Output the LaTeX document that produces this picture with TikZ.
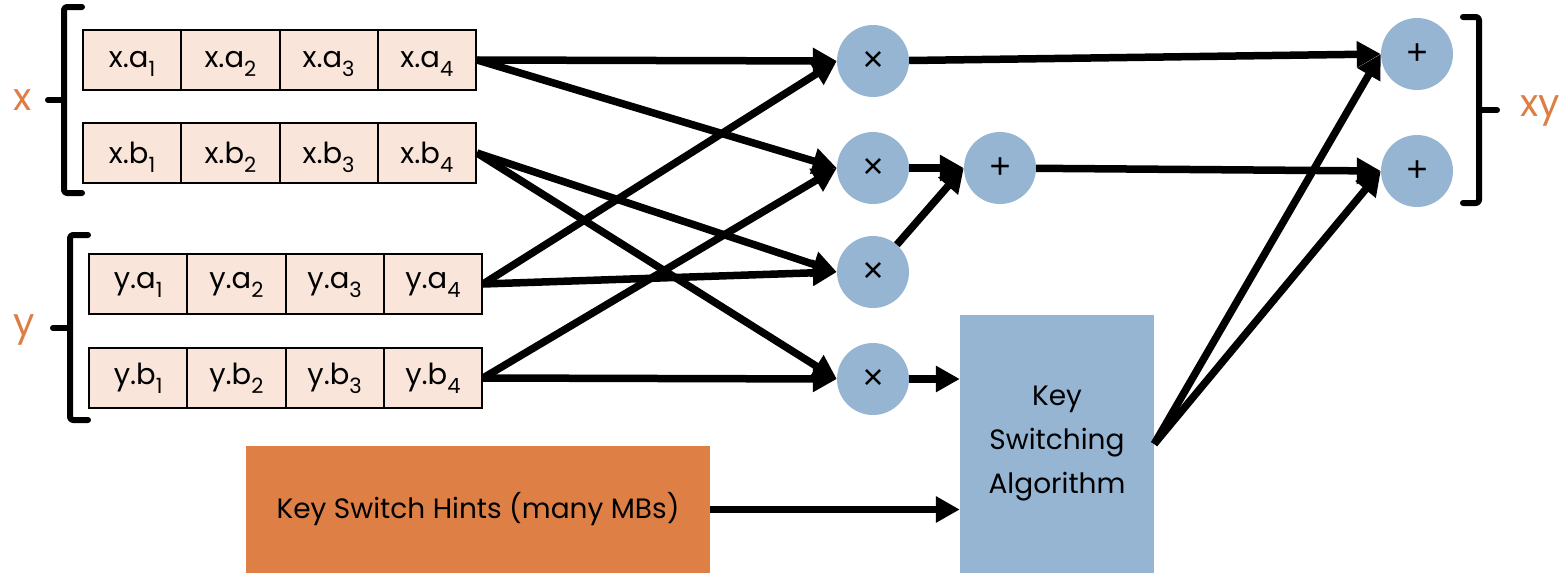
\documentclass[tikz,border=0pt]{standalone}
\usepackage{fontspec}
\setmainfont{Poppins}
\newfontfamily\opfont{Liberation Sans}
\usetikzlibrary{arrows.meta}
\definecolor{cellfill}{HTML}{F9E5DA}
\definecolor{opblue}{HTML}{95B5D3}
\definecolor{hintorange}{HTML}{DE7F46}
\definecolor{labelorange}{HTML}{DD7E45}
% lowered index digit inside a register cell
\newcommand\regsub[1]{\raisebox{-9pt}[0pt][0pt]{\fontsize{21}{21}\selectfont #1}}

\begin{document}
\begin{tikzpicture}[x=1pt,y=-1pt,
  cell/.style={draw=black, line width=2pt, fill=cellfill, minimum width=98.25pt,
    minimum height=60pt, inner sep=0pt, anchor=north west,
    font=\fontsize{29}{29}\selectfont},
  op/.style={circle, fill=opblue, minimum size=72pt, inner sep=0pt,
    font=\opfont\fontsize{36}{36}\selectfont},
  conn/.style={line width=7.5pt, -{Triangle[length=24pt,width=25pt]}},
  bracket/.style={line width=6pt, line cap=round, line join=round, rounded corners=3pt},
  tag/.style={text=labelorange, font=\fontsize{38}{38}\selectfont, inner sep=0pt},
]
\useasboundingbox (0,0) rectangle (1568,573);

% ciphertext registers
\foreach \i in {1,...,4}{
  \node[cell] (xa\i) at ({82+(\i-1)*98.25},29)  {x.a\regsub{\i}};
  \node[cell] (xb\i) at ({82+(\i-1)*98.25},122) {x.b\regsub{\i}};
  \node[cell] (ya\i) at ({88+(\i-1)*98.25},253) {y.a\regsub{\i}};
  \node[cell] (yb\i) at ({88+(\i-1)*98.25},347) {y.b\regsub{\i}};
}

% grouping brackets
\draw[bracket] (82,7) -- (64,7) -- (64,193) -- (82,193);
\draw[bracket] (64,100) -- (48,100);
\draw[bracket] (88,235) -- (70,235) -- (70,420) -- (88,420);
\draw[bracket] (70,328) -- (53,328);
\draw[bracket] (1463,17) -- (1479,17) -- (1479,203) -- (1463,203);
\draw[bracket] (1479,110) -- (1497,110);
\node[tag] (tx) at (23,100) {x};
\node[tag] (ty) at (24,330) {y};
\node[tag] (txy) at (1540,111) {xy};

% multipliers and adders
\node[op] (m1) at (873,61)  {×};
\node[op] (m2) at (873,168) {×};
\node[op] (m3) at (873,272) {×};
\node[op] (m4) at (873,379) {×};
\node[op] (p0) at (1000,168) {+};
\node[op] (q1) at (1417,54)  {+};
\node[op] (q2) at (1417,171) {+};

% key switching
\node[fill=opblue, minimum width=194pt, minimum height=258pt, inner sep=0pt,
  align=center, font=\fontsize{28}{44}\selectfont] (ks) at (1057,444)
  {Key\\Switching\\Algorithm};
\node[fill=hintorange, minimum width=464pt, minimum height=127pt, inner sep=0pt,
  font=\fontsize{28}{28}\selectfont] (ksh) at (478,509.5)
  {Key Switch Hints (many MBs)};

% data flow
\draw[conn] (xa4.east) -- (m1.west);
\draw[conn] (xa4.east) -- (m2.west);
\draw[conn] (xb4.east) -- (m3.west);
\draw[conn] (xb4.east) -- (m4.west);
\draw[conn] (ya4.east) -- (m1.west);
\draw[conn] (ya4.east) -- (m3.west);
\draw[conn] (yb4.east) -- (m2.west);
\draw[conn] (yb4.east) -- (m4.west);
\draw[conn] (m1) -- (q1.west);
\draw[conn] (m2) -- (p0.west);
\draw[conn] (m3) -- (p0.west);
\draw[conn] (p0) -- (q2.west);
\draw[conn] (m4) -- (m4 -| ks.west);
\draw[conn] (ksh) -- (ksh -| ks.west);
\draw[conn] (ks.east) -- (q1.west);
\draw[conn] (ks.east) -- (q2.west);
\end{tikzpicture}
\end{document}
